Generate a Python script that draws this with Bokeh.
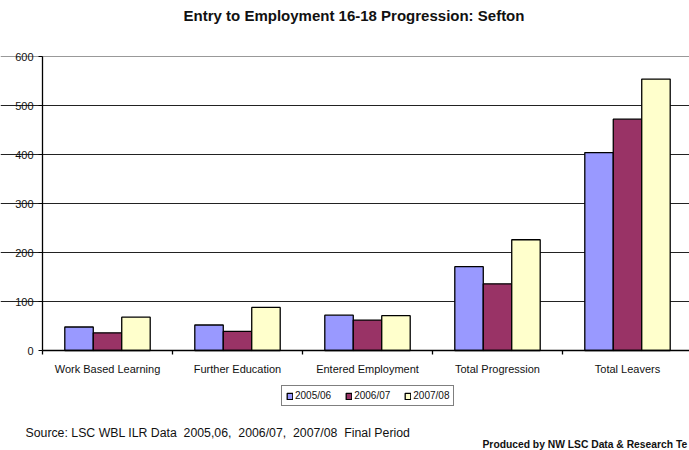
from bokeh.plotting import figure
from bokeh.models import (Range1d, FixedTicker, Legend, LegendItem, Grid,
                          ColumnDataSource, Label)
from bokeh.transform import dodge
from bokeh.embed import file_html
from bokeh.resources import INLINE

# ---- data ----
categories = ["Work Based Learning", "Further Education", "Entered Employment",
              "Total Progression", "Total Leavers"]
series_names = ["2005/06", "2006/07", "2007/08"]
values_2005_06 = [48, 52, 72, 171, 404]
values_2006_07 = [36, 39, 62, 136, 472]
values_2007_08 = [68, 88, 71, 226, 554]
y_ticks = [0, 100, 200, 300, 400, 500, 600]
title_text = "Entry to Employment 16-18 Progression: Sefton"
source_text = "Source: LSC WBL ILR Data\u00a0 2005,06,\u00a0 2006/07,\u00a0 2007/08\u00a0 Final Period"
produced_text = "Produced by NW LSC Data & Research Te"

colors = ["#9999FF", "#993366", "#FFFFCC"]
FONT = "Liberation Sans"

W, H = 689, 450
centers = [i + 0.5 for i in range(len(categories))]
src = ColumnDataSource(dict(x=centers, a=values_2005_06, b=values_2006_07, c=values_2007_08))

# plot area in pixels: x=0 at px 42, 130 px per category; y=0 at px 350, 600 at px 56
px_per_x = 130.0
px_per_y = 294.0 / 600.0
x0_px, y0_px = 42.0, 350.0
x_range = Range1d(-x0_px / px_per_x, (W - x0_px) / px_per_x)
y_range = Range1d(-(H - y0_px) / px_per_y, y0_px / px_per_y)

p = figure(width=W, height=H, output_backend="svg", toolbar_location=None,
           x_range=x_range, y_range=y_range,
           min_border_left=0, min_border_right=0, min_border_top=0, min_border_bottom=0)
p.outline_line_color = None
p.background_fill_color = "white"
p.border_fill_color = "white"

# grid
p.xgrid.visible = False
p.ygrid.ticker = FixedTicker(ticks=y_ticks[1:-1])
p.ygrid.grid_line_color = "#222222"
p.ygrid.grid_line_width = 1
p.ygrid.bounds = (0, x_range.end)
top_grid = Grid(dimension=1, ticker=FixedTicker(ticks=[y_ticks[-1]]),
                grid_line_color="#999999", grid_line_width=1, bounds=(0, x_range.end))
p.add_layout(top_grid)

bw = 0.219
renderers = []
for k, (col, name) in enumerate(zip(["a", "b", "c"], series_names)):
    r = p.vbar(x=dodge("x", (k - 1) * bw, range=p.x_range), top=col, width=bw,
               bottom=0, source=src, fill_color=colors[k], line_color="black",
               line_width=1.3)
    renderers.append(r)

# axes
xa = p.xaxis[0]
xa.fixed_location = 0
xa.bounds = (0, x_range.end)
xa.ticker = FixedTicker(ticks=centers, minor_ticks=list(range(len(categories) + 1)))
xa.major_label_overrides = {c: lab for c, lab in zip(centers, categories)}
xa.major_tick_out = 0
xa.major_tick_in = 0
xa.minor_tick_out = 4
xa.minor_tick_in = 0
xa.axis_line_color = "black"
xa.axis_line_width = 1.3
xa.minor_tick_line_color = "black"
xa.minor_tick_line_width = 1.3
xa.major_label_text_font = FONT
xa.major_label_text_font_size = "11px"
xa.major_label_text_color = "#111111"
xa.major_label_standoff = 8

ya = p.yaxis[0]
ya.fixed_location = 0
ya.bounds = (0, y_ticks[-1])
ya.ticker = FixedTicker(ticks=y_ticks)
ya.minor_tick_line_color = None
ya.major_tick_out = 4
ya.major_tick_in = 0
ya.axis_line_color = "black"
ya.axis_line_width = 1.3
ya.major_tick_line_color = "black"
ya.major_label_text_font = FONT
ya.major_label_text_font_size = "11px"
ya.major_label_text_color = "#111111"
ya.major_label_standoff = 5

# legend (screen position relative to the frame, which is the whole canvas)
legend = Legend(items=[LegendItem(label=n, renderers=[r]) for n, r in zip(series_names, renderers)],
                orientation="horizontal", location=(281, H - 406),
                glyph_width=7, glyph_height=8, label_standoff=2, spacing=14,
                padding=4, margin=0, label_height=10, label_width=10,
                label_text_font=FONT, label_text_font_size="10px",
                label_text_color="#111111",
                border_line_color="black", border_line_width=1.3,
                background_fill_color="white", background_fill_alpha=1)
p.add_layout(legend, "center")

# texts
p.add_layout(Label(x=353.5, y=H - 15, x_units="screen", y_units="screen", text=title_text,
                   text_font=FONT, text_font_size="15px", text_font_style="bold",
                   text_align="center", text_baseline="middle", text_color="#111111"))
p.add_layout(Label(x=25, y=H - 432, x_units="screen", y_units="screen", text=source_text,
                   text_font=FONT, text_font_size="12.3px",
                   text_align="left", text_baseline="middle", text_color="#111111"))
p.add_layout(Label(x=482, y=H - 444, x_units="screen", y_units="screen", text=produced_text,
                   text_font=FONT, text_font_size="10.3px", text_font_style="bold",
                   text_align="left", text_baseline="middle", text_color="#111111"))

open("out.html", "w").write(file_html(p, INLINE))
